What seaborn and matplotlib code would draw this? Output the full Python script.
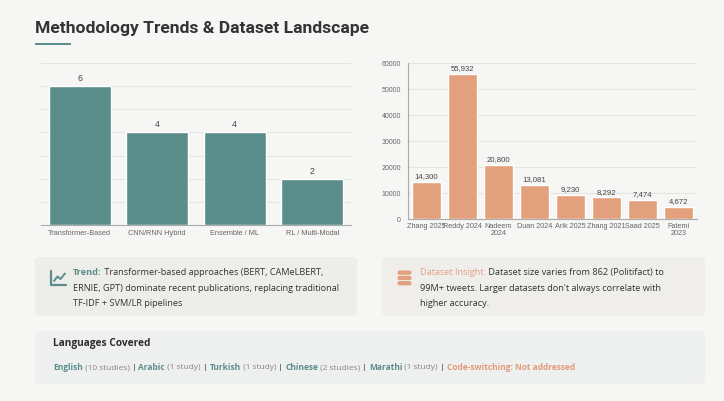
import matplotlib
matplotlib.use("Agg")
import matplotlib.pyplot as plt
import seaborn as sns
import numpy as np
import pandas as pd
from matplotlib.patches import FancyBboxPatch, Rectangle

# ---------------- data ----------------
method_categories = ["Transformer-Based", "CNN/RNN Hybrid", "Ensemble / ML", "RL / Multi-Modal"]
method_counts = [6, 4, 4, 2]

dataset_labels = ["Zhang 2025", "Reddy 2024", "Nadeem\n2024", "Duan 2024",
                  "Arik 2025", "Zhang 2021", "Saad 2025", "Fatemi\n2023"]
dataset_sizes = [14300, 55932, 20800, 13081, 9230, 8292, 7474, 4672]

dataset_yticks = [0, 10000, 20000, 30000, 40000, 50000, 60000]

title_text = "Methodology Trends & Dataset Landscape"

trend_lines = [
    [("Trend:", "teal", "bold"), (" Transformer-based approaches (BERT, CAMeLBERT,", "text", "normal")],
    [("ERNIE, GPT) dominate recent publications, replacing traditional", "text", "normal")],
    [("TF-IDF + SVM/LR pipelines", "text", "normal")],
]
insight_lines = [
    [("Dataset Insight:", "orange_l", "normal"), (" Dataset size varies from 862 (Politifact) to", "text", "normal")],
    [("99M+ tweets. Larger datasets don't always correlate with", "text", "normal")],
    [("higher accuracy.", "text", "normal")],
]
languages_title = "Languages Covered"
languages = ["English", "Arabic", "Turkish", "Chinese", "Marathi"]
language_counts = ["(10 studies)", "(1 study)", "(1 study)", "(2 studies)", "(1 study)"]
languages_note = "Code-switching: Not addressed"

# ---------------- style ----------------
sns.set_theme(style="white")
plt.rcParams["font.family"] = ["Liberation Sans", "DejaVu Sans"]

BG = "#f6f6f4"
TEAL = "#5b8d8a"
ORANGE = "#e2a07c"
ORANGE_L = "#e5a084"
TEXT = "#333333"
GRID = "#e4e4e2"
colors = {"teal": TEAL, "orange": "#e39a79", "orange_l": ORANGE_L, "text": TEXT, "gray": "#858585"}

W, H = 724, 402
fig = plt.figure(figsize=(W / 100, H / 100), dpi=100, facecolor=BG)

# overlay axes in pixel coordinates
ov = fig.add_axes([0, 0, 1, 1], zorder=0)
ov.set_xlim(0, W)
ov.set_ylim(H, 0)
ov.axis("off")
ov.set_facecolor(BG)

def px_axes(left, top, right, bottom):
    return fig.add_axes([left / W, 1 - bottom / H, (right - left) / W, (bottom - top) / H], zorder=2)

# title
ov.text(35, 29, title_text, fontsize=12.6, fontweight="bold", color="#333333",
        family=["Roboto", "DejaVu Sans"], va="center", ha="left")
ov.add_patch(Rectangle((35, 43.5), 36, 2, color=TEAL, lw=0))

# ---------------- left chart ----------------
axL = px_axes(41, 64, 351, 226)
axL.set_facecolor("none")
df_m = pd.DataFrame({"cat": method_categories, "n": method_counts})
sns.barplot(data=df_m, x="cat", y="n", color=TEAL, saturation=1, width=0.8, ax=axL, zorder=3)
axL.set_ylim(0, 7)
axL.set_xlim(-0.5, len(method_categories) - 0.5)
axL.set_yticks(range(0, 8))
axL.set_yticklabels([])
axL.tick_params(axis="y", length=0)
axL.grid(axis="y", color=GRID, lw=0.8, zorder=0)
axL.set_xlabel("")
axL.set_ylabel("")
for s in ["top", "right", "left"]:
    axL.spines[s].set_visible(False)
axL.spines["bottom"].set_color("#aaaaaa")
axL.spines["bottom"].set_linewidth(0.8)
axL.set_xticks(np.arange(-0.5, len(method_categories), 1.0), minor=True)
axL.tick_params(axis="x", which="minor", length=3, color="#aaaaaa", width=0.8)
axL.tick_params(axis="x", which="major", length=0, labelsize=5.3, labelcolor="#666666", pad=3)
for c in axL.containers:
    axL.bar_label(c, labels=[str(v) for v in method_counts], padding=3, fontsize=6.3, color="#444444")

# ---------------- right chart ----------------
axR = px_axes(408, 64, 697, 220)
axR.set_facecolor("none")
df_d = pd.DataFrame({"lab": dataset_labels, "size": dataset_sizes})
sns.barplot(data=df_d, x="lab", y="size", color=ORANGE, saturation=1, width=0.8, ax=axR, zorder=3)
axR.set_ylim(0, 60000)
axR.set_xlim(-0.5, len(dataset_labels) - 0.5)
axR.set_yticks(dataset_yticks)
axR.set_yticklabels([str(v) for v in dataset_yticks])
axR.tick_params(axis="y", length=3, color="#aaaaaa", width=0.8, labelsize=5, labelcolor="#666666", pad=2)
axR.grid(axis="y", color=GRID, lw=0.8, zorder=0)
axR.set_xlabel("")
axR.set_ylabel("")
for s in ["top", "right"]:
    axR.spines[s].set_visible(False)
for s in ["bottom", "left"]:
    axR.spines[s].set_color("#aaaaaa")
    axR.spines[s].set_linewidth(0.8)
axR.set_xticks(np.arange(-0.5, len(dataset_labels), 1.0), minor=True)
axR.tick_params(axis="x", which="minor", length=3, color="#aaaaaa", width=0.8)
axR.tick_params(axis="x", which="major", length=0, labelsize=5.2, labelcolor="#666666", pad=2)
for t in axR.get_xticklabels():
    t.set_linespacing(1.1)
for c in axR.containers:
    axR.bar_label(c, labels=[f"{v:,}" for v in dataset_sizes], padding=2, fontsize=5.6, color="#444444")

# ---------------- cards ----------------
def card(x0, y0, x1, y1, fc):
    ov.add_patch(FancyBboxPatch((x0, y0), x1 - x0, y1 - y0,
                                boxstyle="round,pad=0,rounding_size=5",
                                fc=fc, ec="none", zorder=1))

card(35, 258, 357, 317, "#ededea")
card(382, 258, 705, 317, "#efeeeb")
card(35, 332, 705, 385, "#eef0ef")

renderer = fig.canvas.get_renderer()
CARD_FONT = ["Open Sans", "DejaVu Sans"]

def rich(x, y, pieces, size, family=CARD_FONT):
    for txt, col, weight in pieces:
        t = ov.text(x, y, txt, fontsize=size, color=colors.get(col, col), fontweight=weight,
                    family=family, va="center", ha="left", zorder=3)
        bb = t.get_window_extent(renderer)
        x += bb.width

for i, line in enumerate(trend_lines):
    rich(73, 273 + i * 15.5, line, 6.55)
for i, line in enumerate(insight_lines):
    rich(420, 273 + i * 15.5, line, 6.55)

# trend icon
ov.plot([51, 51, 66], [272, 286, 286], color=TEAL, lw=1.6, solid_capstyle="round", zorder=3)
ov.plot([54, 57.5, 60.5, 65], [282, 277.5, 280, 274.5], color=TEAL, lw=1.4,
        solid_capstyle="round", solid_joinstyle="round", zorder=3)

# database icon
for k in range(3):
    ov.add_patch(FancyBboxPatch((397.5, 271.5 + k * 5.3), 14, 4.3,
                                boxstyle="round,pad=0,rounding_size=2.1",
                                fc="#e39f7e", ec="none", zorder=3))

# languages card
ov.text(53, 344, languages_title, fontsize=7.3, fontweight="bold", color="#2e2e2e",
        family=CARD_FONT, va="center", ha="left", zorder=3)
pieces = []
for j, (lang, cnt) in enumerate(zip(languages, language_counts)):
    pieces.append((lang, "teal", "bold"))
    pieces.append((" " + cnt + " ", "gray", "normal"))
    pieces.append(("|", "text", "normal"))
    pieces.append((" ", "gray", "normal"))
pieces.append((languages_note, "orange", "bold"))
rich(53, 368, pieces, 6.0)

fig.savefig("out.png", dpi=100, facecolor=BG)
